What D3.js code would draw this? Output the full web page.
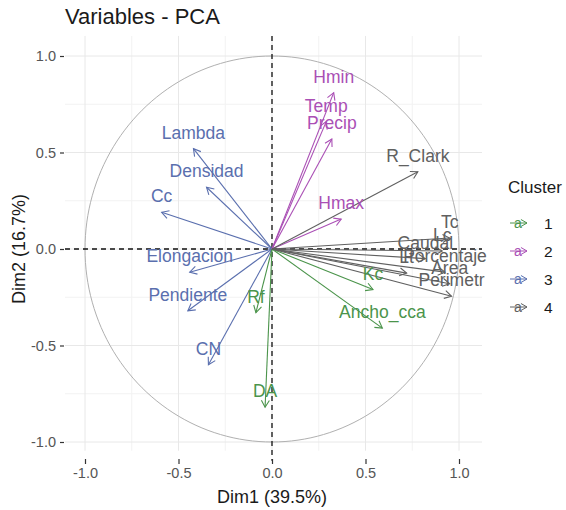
<!DOCTYPE html>
<html>
<head>
<meta charset="utf-8">
<script src="https://cdn.jsdelivr.net/npm/d3@7"></script>
<style>
  body { margin: 0; background: #fff; }
  text { font-family: "Liberation Sans", Arial, sans-serif; }
</style>
</head>
<body>
<svg id="chart" width="566" height="510"></svg>
<script>
// variable coordinates on the first two dimensions
var vars    = ["Lambda", "Densidad", "Cc", "Elongacion", "Pendiente", "CN",
               "Rf", "DA", "Ancho_cca", "Kc",
               "Hmin", "Temp", "Precip", "Hmax",
               "R_Clark", "Tc", "Lc", "Caudal", "Lt", "Porcentaje", "Area", "Perimetr"];
var dim1    = [-0.42, -0.35, -0.59, -0.44, -0.45, -0.34,
               -0.086, -0.037, 0.59, 0.54,
               0.33, 0.29, 0.32, 0.37,
               0.78, 0.95, 0.91, 0.82, 0.72, 0.925, 0.95, 0.96];
var dim2    = [0.52, 0.32, 0.19, -0.12, -0.32, -0.60,
               -0.33, -0.82, -0.41, -0.21,
               0.81, 0.66, 0.57, 0.155,
               0.40, 0.057, -0.01, -0.05, -0.125, -0.12, -0.18, -0.245];
var cluster = ["3", "3", "3", "3", "3", "3",
               "1", "1", "1", "1",
               "2", "2", "2", "2",
               "4", "4", "4", "4", "4", "4", "4", "4"];

var clusters = ["1", "2", "3", "4"];
var ticks = [-1, -0.5, 0, 0.5, 1];
var minorTicks = [-0.75, -0.25, 0.25, 0.75];

var data = vars.map(function (v, i) {
  return { name: v, d1: dim1[i], d2: dim2[i], cl: cluster[i] };
});

var svg = d3.select("#chart");

var x = d3.scaleLinear().domain([-1, 1]).range([85, 459]);
var y = d3.scaleLinear().domain([-1, 1]).range([442, 56]);
var xlim = [-1.107, 1.123], ylim = [-1.045, 1.104];

var color = d3.scaleOrdinal()
  .domain(clusters)
  .range(["#4b944b", "#aa4fb5", "#5a6fae", "#606060"]);

// grid
var grid = svg.append("g");
grid.selectAll(".vmin").data(minorTicks).enter().append("line")
  .attr("x1", function (d) { return x(d); }).attr("x2", function (d) { return x(d); })
  .attr("y1", y(ylim[1])).attr("y2", y(ylim[0]))
  .attr("stroke", "#f2f2f2");
grid.selectAll(".hmin").data(minorTicks).enter().append("line")
  .attr("y1", function (d) { return y(d); }).attr("y2", function (d) { return y(d); })
  .attr("x1", x(xlim[0])).attr("x2", x(xlim[1]))
  .attr("stroke", "#f2f2f2");
grid.selectAll(".vmaj").data(ticks).enter().append("line")
  .attr("x1", function (d) { return x(d); }).attr("x2", function (d) { return x(d); })
  .attr("y1", y(ylim[1])).attr("y2", y(ylim[0]))
  .attr("stroke", "#e8e8e8");
grid.selectAll(".hmaj").data(ticks).enter().append("line")
  .attr("y1", function (d) { return y(d); }).attr("y2", function (d) { return y(d); })
  .attr("x1", x(xlim[0])).attr("x2", x(xlim[1]))
  .attr("stroke", "#e8e8e8");

// correlation circle
var angles = d3.range(0, 361, 2);
svg.append("path")
  .datum(angles)
  .attr("d", d3.line()
    .x(function (a) { return x(Math.cos(a * Math.PI / 180)); })
    .y(function (a) { return y(Math.sin(a * Math.PI / 180)); }))
  .attr("fill", "none")
  .attr("stroke", "#b0b0b0")
  .attr("stroke-width", 1);

// dashed axes through origin
svg.append("line")
  .attr("x1", x(xlim[0])).attr("x2", x(xlim[1]))
  .attr("y1", y(0)).attr("y2", y(0))
  .attr("stroke", "#111").attr("stroke-width", 1.3).attr("stroke-dasharray", "5,4");
svg.append("line")
  .attr("x1", x(0)).attr("x2", x(0))
  .attr("y1", y(ylim[1])).attr("y2", y(ylim[0]) + 10)
  .attr("stroke", "#111").attr("stroke-width", 1.3).attr("stroke-dasharray", "5,4");

// arrows
function headPath(x0, y0, x1, y1, len) {
  var ang = Math.atan2(y1 - y0, x1 - x0);
  var a1 = ang + Math.PI - Math.PI / 6, a2 = ang + Math.PI + Math.PI / 6;
  return "M" + (x1 + len * Math.cos(a1)) + "," + (y1 + len * Math.sin(a1)) +
    "L" + x1 + "," + y1 +
    "L" + (x1 + len * Math.cos(a2)) + "," + (y1 + len * Math.sin(a2));
}

var arrows = svg.append("g");
arrows.selectAll("line").data(data).enter().append("line")
  .attr("x1", x(0)).attr("y1", y(0))
  .attr("x2", function (d) { return x(d.d1); })
  .attr("y2", function (d) { return y(d.d2); })
  .attr("stroke", function (d) { return color(d.cl); })
  .attr("stroke-width", 1.1);
arrows.selectAll("path").data(data).enter().append("path")
  .attr("d", function (d) { return headPath(x(0), y(0), x(d.d1), y(d.d2), 8); })
  .attr("fill", "none")
  .attr("stroke", function (d) { return color(d.cl); })
  .attr("stroke-width", 1.1);

// labels
svg.append("g").selectAll("text").data(data).enter().append("text")
  .attr("x", function (d) { return x(d.d1); })
  .attr("y", function (d) { return y(d.d2) - 10; })
  .attr("text-anchor", "middle")
  .attr("font-size", 17.5)
  .attr("fill", function (d) { return color(d.cl); })
  .text(function (d) { return d.name; });

// axes
var fmt = function (d) { return d.toFixed(1); };
var xAxis = svg.append("g")
  .attr("transform", "translate(0,459)")
  .call(d3.axisBottom(x).tickValues(ticks).tickFormat(fmt).tickSize(5).tickPadding(4));
var yAxis = svg.append("g")
  .attr("transform", "translate(64,0)")
  .call(d3.axisLeft(y).tickValues(ticks).tickFormat(fmt).tickSize(4).tickPadding(4));
[xAxis, yAxis].forEach(function (ax) {
  ax.select(".domain").remove();
  ax.selectAll("line").attr("stroke", "#333").attr("stroke-width", 1.2);
  ax.selectAll("text").attr("fill", "#555").attr("font-size", 14.5)
    .style("font-family", "'Liberation Sans', Arial, sans-serif");
});

// titles
svg.append("text")
  .attr("x", 65).attr("y", 24)
  .attr("font-size", 22).attr("fill", "#1a1a1a")
  .text("Variables - PCA");
svg.append("text")
  .attr("x", x(0)).attr("y", 503)
  .attr("text-anchor", "middle")
  .attr("font-size", 18).attr("fill", "#1a1a1a")
  .text("Dim1 (39.5%)");
svg.append("text")
  .attr("transform", "translate(25," + y(0) + ") rotate(-90)")
  .attr("text-anchor", "middle")
  .attr("font-size", 18).attr("fill", "#1a1a1a")
  .text("Dim2 (16.7%)");

// legend
var legend = svg.append("g");
legend.append("text")
  .attr("x", 508).attr("y", 193)
  .attr("font-size", 17).attr("fill", "#1a1a1a")
  .text("Cluster");
var items = legend.selectAll(".item").data(clusters).enter().append("g")
  .attr("transform", function (d, i) { return "translate(0," + (223 + i * 28) + ")"; });
items.append("line")
  .attr("x1", 510).attr("x2", 527).attr("y1", 0).attr("y2", 0)
  .attr("stroke", function (d) { return color(d); });
items.append("path")
  .attr("d", headPath(510, 0, 527, 0, 7))
  .attr("fill", "none")
  .attr("stroke", function (d) { return color(d); });
items.append("text")
  .attr("x", 518).attr("y", 5)
  .attr("text-anchor", "middle")
  .attr("font-size", 14)
  .attr("fill", function (d) { return color(d); })
  .text("a");
items.append("text")
  .attr("x", 544).attr("y", 6)
  .attr("font-size", 15.5).attr("fill", "#1a1a1a")
  .text(function (d) { return d; });
</script>
</body>
</html>
